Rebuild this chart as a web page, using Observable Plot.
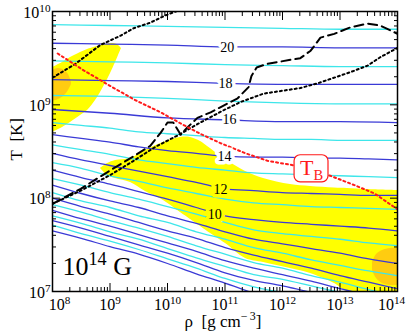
<!DOCTYPE html>
<html><head><meta charset="utf-8">
<script src="https://cdn.jsdelivr.net/npm/d3@7"></script>
<script src="https://cdn.jsdelivr.net/npm/@observablehq/plot@0.6"></script>
<style>body{margin:0;background:#fff} svg{display:block}</style>
</head><body><div id="chart"></div>
<script>
const SERIF = "'Liberation Serif','Times New Roman',serif";
const BLUE = "#3a3ad6", CYAN = "#3ee6ea", YELLOW = "#ffff00", ORANGE = "#ffcc10";

// density grid (log10 rho) on which contour temperatures were read
const gridLogRho = [8, 8.5, 9, 9.5, 10, 10.5, 11, 11.5, 12, 12.5, 13, 13.5, 14];
const coarseLogRho = [8, 9, 10, 11, 12, 13, 14];

// contour levels: log10 T along the density grid
const level21 = [9.86, 9.85, 9.84, 9.83, 9.82, 9.81, 9.81];
const level20 = [9.66, 9.65, 9.64, 9.62, 9.62, 9.61, 9.61];
const level19 = [9.47, 9.46, 9.45, 9.43, 9.42, 9.41, 9.41];
const level18 = [9.27, 9.26, 9.25, 9.23, 9.22, 9.22, 9.22];
const level17 = [9.10, 9.09, 9.07, 9.04, 9.02, 9.01, 9.01];
const level16 = [8.95, 8.91, 8.86, 8.84, 8.82, 8.82, 8.81];
const level15 = [8.81, 8.78, 8.75, 8.71, 8.69, 8.67, 8.65, 8.64, 8.63, 8.63, 8.62, 8.62, 8.62];
const level14 = [8.68, 8.64, 8.60, 8.55, 8.51, 8.48, 8.45, 8.44, 8.44, 8.43, 8.43, 8.42, 8.41];
const level13 = [8.57, 8.52, 8.47, 8.41, 8.37, 8.33, 8.30, 8.27, 8.26, 8.25, 8.24, 8.23, 8.22];
const level12 = [8.48, 8.41, 8.35, 8.29, 8.23, 8.17, 8.10, 8.08, 8.06, 8.05, 8.04, 8.03, 8.03];
const level11 = [8.38, 8.32, 8.24, 8.18, 8.11, 8.05, 7.99, 7.95, 7.93, 7.91, 7.90, 7.89, 7.88];
const level10 = [8.30, 8.22, 8.15, 8.07, 7.99, 7.90, 7.81, 7.77, 7.74, 7.72, 7.70, 7.68, 7.65];
const level9  = [8.21, 8.14, 8.06, 7.99, 7.91, 7.83, 7.74, 7.66, 7.62, 7.59, 7.56, 7.52, 7.49];
const level8  = [8.14, 8.05, 7.97, 7.90, 7.81, 7.73, 7.64, 7.56, 7.51, 7.46, 7.41, 7.35, 7.30];
const level7  = [8.06, 7.97, 7.90, 7.81, 7.74, 7.64, 7.56, 7.47, 7.41, 7.34, 7.28, 7.22, 7.17];
const level6  = [8.00, 7.91, 7.83, 7.74, 7.65, 7.57, 7.47, 7.39, 7.32, 7.25, 7.17, 7.10, 7.03];
const level5  = [7.93, 7.85, 7.76, 7.68, 7.59, 7.49, 7.40, 7.31, 7.25, 7.17, 7.10, 7.02, 6.95];
const level4  = [7.87, 7.78, 7.70, 7.61, 7.52, 7.43, 7.33, 7.25, 7.18, 7.11, 7.03, 6.96];
const level3  = [7.81, 7.73, 7.64, 7.56, 7.46, 7.36, 7.27, 7.18, 7.13, 7.06, 6.99];
const level2  = [7.76, 7.68, 7.59, 7.50, 7.41, 7.31, 7.20, 7.12, 7.06, 6.99];
const level1  = [7.71, 7.62, 7.54, 7.45, 7.35, 7.25, 7.14, 7.05, 6.99];
const level0  = [7.65, 7.57, 7.48, 7.40, 7.30, 7.19, 7.09, 6.98];
const contourLevels = [21,20,19,18,17,16,15,14,13,12,11,10,9,8,7,6,5,4,3,2,1,0];
const contourLogT = [level21,level20,level19,level18,level17,level16,level15,level14,level13,level12,level11,level10,level9,level8,level7,level6,level5,level4,level3,level2,level1,level0];

// contour labels
const labelLevels = [20, 18, 16, 14, 12, 10];
const labelLogRho = [11.04, 11.01, 11.08, 10.99, 10.92, 10.82];
const labelLogT   = [9.61, 9.23, 8.84, 8.45, 8.09, 7.83];

// T_B line (red dotted)
const tbLogRho = [8.09, 8.54, 9.01, 9.44, 9.88, 10.23, 10.57, 10.92, 11.36, 11.74, 12.21, 12.83, 13.25, 13.60, 14.0];
const tbLogT   = [9.55, 9.37, 9.20, 9.05, 8.92, 8.80, 8.69, 8.59, 8.48, 8.40, 8.35, 8.24, 8.14, 8.05, 7.88];
// black dashed line
const dashLogRho = [8.0, 8.49, 9.01, 9.44, 9.70, 9.88, 10.0, 10.10, 10.23, 10.35, 10.52, 10.75, 11.22, 11.41, 11.46, 11.55, 11.74, 12.31, 12.49, 12.66, 12.90, 13.18, 13.48, 13.70, 14.0];
const dashLogT   = [7.94, 8.10, 8.30, 8.46, 8.56, 8.70, 8.81, 8.81, 8.68, 8.76, 8.86, 8.92, 9.07, 9.19, 9.31, 9.40, 9.44, 9.50, 9.58, 9.72, 9.76, 9.83, 9.87, 9.85, 9.76];
// black dotted lines
const dotLogRho = [8.0, 8.49, 9.01, 9.41, 9.79, 10.17, 10.57, 10.97, 11.27, 11.67, 12.31, 12.61, 13.18, 13.48, 13.70, 14.0];
const dotLogT   = [7.94, 8.08, 8.25, 8.40, 8.55, 8.67, 8.81, 8.94, 9.03, 9.12, 9.18, 9.23, 9.35, 9.42, 9.51, 9.61];
const dot2LogRho = [8.0, 8.40, 8.83, 9.18, 9.41, 9.70, 9.97, 10.23];
const dot2LogT   = [9.29, 9.44, 9.64, 9.74, 9.82, 9.88, 9.96, 10.02];

// shaded regions: density, lower and upper log T
const blobLogRho = [8.0, 8.174, 8.313, 8.487, 8.609, 8.748, 8.835, 8.922, 9.009, 9.096, 9.148, 9.2];
const blobLo = [8.704, 8.757, 8.811, 8.886, 8.939, 9.046, 9.132, 9.229, 9.336, 9.454, 9.529, 9.604];
const blobHi = [9.40, 9.454, 9.507, 9.561, 9.593, 9.620, 9.636, 9.646, 9.657, 9.652, 9.636, 9.604];
const spotLogRho = [8.0, 8.104, 8.209, 8.278, 8.330];
const spotLo = [9.036, 9.057, 9.10, 9.154, 9.218];
const spotHi = [9.368, 9.389, 9.368, 9.325, 9.239];
const bandLogRho = [8.835, 8.957, 9.096, 9.357, 9.617, 9.930, 10.226, 10.4, 10.574, 10.696, 11.009, 11.357, 11.670, 12.139, 12.487, 12.904, 13.130, 13.478, 14.0];
const bandLo = [8.318, 8.243, 8.211, 8.168, 8.071, 7.975, 7.846, 7.771, 7.696, 7.643, 7.514, 7.354, 7.311, 7.246, 7.193, 7.086, 7.0, 7.0, 7.0];
const bandHi = [8.318, 8.371, 8.404, 8.425, 8.511, 8.596, 8.650, 8.650, 8.607, 8.554, 8.414, 8.286, 8.211, 8.146, 8.125, 8.109, 8.104, 8.093, 8.082];
const ovalLogRho = [13.565, 13.635, 13.739, 13.878, 14.0];
const ovalLo = [7.225, 7.139, 7.086, 7.064, 7.064];
const ovalHi = [7.311, 7.396, 7.439, 7.461, 7.461];

// T_B label box
const tbBoxLogRho = [12.21, 12.80];
const tbBoxLogT = [8.17, 8.46];

const xMajor = [1e8, 1e9, 1e10, 1e11, 1e12, 1e13, 1e14];
const yMajor = [1e7, 1e8, 1e9, 1e10];
const xMinor = [], yMinor = [];
for (let e = 8; e < 14; e++) for (let m = 2; m <= 9; m++) xMinor.push(m * 10 ** e);
for (let e = 7; e < 10; e++) for (let m = 2; m <= 9; m++) yMinor.push(m * 10 ** e);

// ---- build tables ----
const contourRows = [];
contourLevels.forEach((lev, i) => {
  const g = lev >= 16 ? coarseLogRho : gridLogRho;
  contourLogT[i].forEach((t, j) => contourRows.push({level: lev, rho: 10 ** g[j], T: 10 ** t}));
});
const pts = (xs, ys) => xs.map((x, i) => ({rho: 10 ** x, T: 10 ** ys[i]}));
const band = (xs, lo, hi) => xs.map((x, i) => ({rho: 10 ** x, lo: 10 ** lo[i], hi: 10 ** hi[i]}));
const labels = labelLevels.map((v, i) => ({v, rho: 10 ** labelLogRho[i], T: 10 ** labelLogT[i]}));
const tbBox = [{x1: 10 ** tbBoxLogRho[0], x2: 10 ** tbBoxLogRho[1], y1: 10 ** tbBoxLogT[0], y2: 10 ** tbBoxLogT[1],
  cx: 10 ** ((tbBoxLogRho[0] + tbBoxLogRho[1]) / 2), cy: 10 ** ((tbBoxLogT[0] + tbBoxLogT[1]) / 2), label: "T_{B}"}];
const expLabel = d => `10^{${Math.round(Math.log10(d))}}`;

const tickOpts = {fill: "none", label: null, strokeWidth: 1};

const plot = Plot.plot({
  width: 407, height: 335,
  marginLeft: 52, marginRight: 10, marginTop: 11, marginBottom: 44,
  x: {type: "log", domain: [1e8, 1e14]},
  y: {type: "log", domain: [1e7, 1e10]},
  style: {fontFamily: SERIF, background: "white", color: "black"},
  marks: [
    Plot.areaY(band(blobLogRho, blobLo, blobHi), {x: "rho", y1: "lo", y2: "hi", fill: YELLOW, curve: "catmull-rom", clip: true}),
    Plot.areaY(band(spotLogRho, spotLo, spotHi), {x: "rho", y1: "lo", y2: "hi", fill: ORANGE, curve: "catmull-rom", clip: true}),
    Plot.areaY(band(bandLogRho, bandLo, bandHi), {x: "rho", y1: "lo", y2: "hi", fill: YELLOW, curve: "catmull-rom", clip: true}),
    Plot.areaY(band(ovalLogRho, ovalLo, ovalHi), {x: "rho", y1: "lo", y2: "hi", fill: ORANGE, curve: "catmull-rom", clip: true}),
    Plot.line(contourRows.filter(d => d.level % 2 === 1), {x: "rho", y: "T", z: "level", stroke: CYAN, strokeWidth: 1.3, curve: "monotone-x", clip: true}),
    Plot.line(contourRows.filter(d => d.level % 2 === 0), {x: "rho", y: "T", z: "level", stroke: BLUE, strokeWidth: 1.3, curve: "monotone-x", clip: true}),
    Plot.line(pts(dotLogRho, dotLogT), {x: "rho", y: "T", stroke: "black", strokeWidth: 2, strokeDasharray: "2,3", clip: true}),
    Plot.line(pts(dot2LogRho, dot2LogT), {x: "rho", y: "T", stroke: "black", strokeWidth: 2, strokeDasharray: "2,3", clip: true}),
    Plot.line(pts(dashLogRho, dashLogT), {x: "rho", y: "T", stroke: "black", strokeWidth: 2, strokeDasharray: "9,5", clip: true}),
    Plot.line(pts(tbLogRho, tbLogT), {x: "rho", y: "T", stroke: "#ff1a1a", strokeWidth: 2, strokeDasharray: "2,3", clip: true}),
    Plot.text(labels.filter(d => d.v > 12), {x: "rho", y: "T", text: d => String(d.v), fontSize: 14, fill: "black", stroke: "white", strokeWidth: 7}),
    Plot.text(labels.filter(d => d.v <= 12), {x: "rho", y: "T", text: d => String(d.v), fontSize: 14, fill: "black", stroke: YELLOW, strokeWidth: 7}),
    Plot.rect(tbBox, {x1: "x1", x2: "x2", y1: "y1", y2: "y2", fill: "white", stroke: "#ff1a1a", strokeWidth: 1.2, rx: 6}),
    Plot.text(tbBox, {x: "cx", y: "cy", text: "label", fill: "#ff1a1a", fontSize: 22, dy: -1}),
    Plot.text(["10^{14} G"], {frameAnchor: "bottom-left", dx: 10, dy: -17, textAnchor: "start", fontSize: 26, text: d => d}),
    Plot.text(["T\u2002[K]"], {frameAnchor: "left", rotate: -90, dx: -36, dy: 9, fontSize: 17, text: d => d}),
    Plot.text(["\u03c1\u2002[g cm^{\u2212\u20093}]"], {frameAnchor: "bottom", dx: -2, dy: 35, fontSize: 17, text: d => d}),
    Plot.frame({stroke: "black", strokeWidth: 1.5}),
    Plot.axisX(xMajor, {anchor: "bottom", tickSize: -8, ...tickOpts}),
    Plot.axisX(xMinor, {anchor: "bottom", tickSize: -4, ...tickOpts}),
    Plot.axisX(xMajor, {anchor: "top", tickSize: -8, ...tickOpts}),
    Plot.axisX(xMinor, {anchor: "top", tickSize: -4, ...tickOpts}),
    Plot.axisY(yMajor, {anchor: "left", tickSize: -8, ...tickOpts}),
    Plot.axisY(yMinor, {anchor: "left", tickSize: -4, ...tickOpts}),
    Plot.axisY(yMajor, {anchor: "right", tickSize: -8, ...tickOpts}),
    Plot.axisY(yMinor, {anchor: "right", tickSize: -4, ...tickOpts}),
    Plot.axisX([1e8], {anchor: "bottom", tickSize: 0, tickPadding: 7, tickFormat: expLabel, fontSize: 16, dx: 7, label: null}),
    Plot.axisX(xMajor.slice(1, -1), {anchor: "bottom", tickSize: 0, tickPadding: 7, tickFormat: expLabel, fontSize: 16, label: null}),
    Plot.axisX([1e14], {anchor: "bottom", tickSize: 0, tickPadding: 7, tickFormat: expLabel, fontSize: 16, dx: -6, label: null}),
    Plot.axisY(yMajor, {anchor: "left", tickSize: 0, tickPadding: 2, tickFormat: expLabel, fontSize: 16, dy: 1, label: null})
  ]
});
document.getElementById("chart").append(plot);

// turn ^{..} and _{..} into real superscript / subscript tspans
const SVGNS = "http://www.w3.org/2000/svg";
plot.querySelectorAll("text").forEach(t => {
  const s = t.textContent;
  if (!/[\^_]\{/.test(s) || t.querySelector("tspan")) return;
  const fs = parseFloat(getComputedStyle(t).fontSize) || 16;
  t.textContent = "";
  const re = /([\^_])\{([^}]*)\}/g;
  let last = 0, shift = 0, m;
  const add = (txt, kind) => {
    if (!txt) return;
    const ts = document.createElementNS(SVGNS, "tspan");
    const target = kind === "^" ? -0.38 * fs : kind === "_" ? 0.25 * fs : 0;
    if (target !== shift) ts.setAttribute("dy", target - shift);
    shift = target;
    if (kind) ts.setAttribute("font-size", (kind === "^" ? 0.7 : 0.66) * fs);
    ts.textContent = txt;
    t.appendChild(ts);
  };
  while ((m = re.exec(s))) { add(s.slice(last, m.index), ""); add(m[2], m[1]); last = re.lastIndex; }
  add(s.slice(last), "");
});
</script></body></html>
